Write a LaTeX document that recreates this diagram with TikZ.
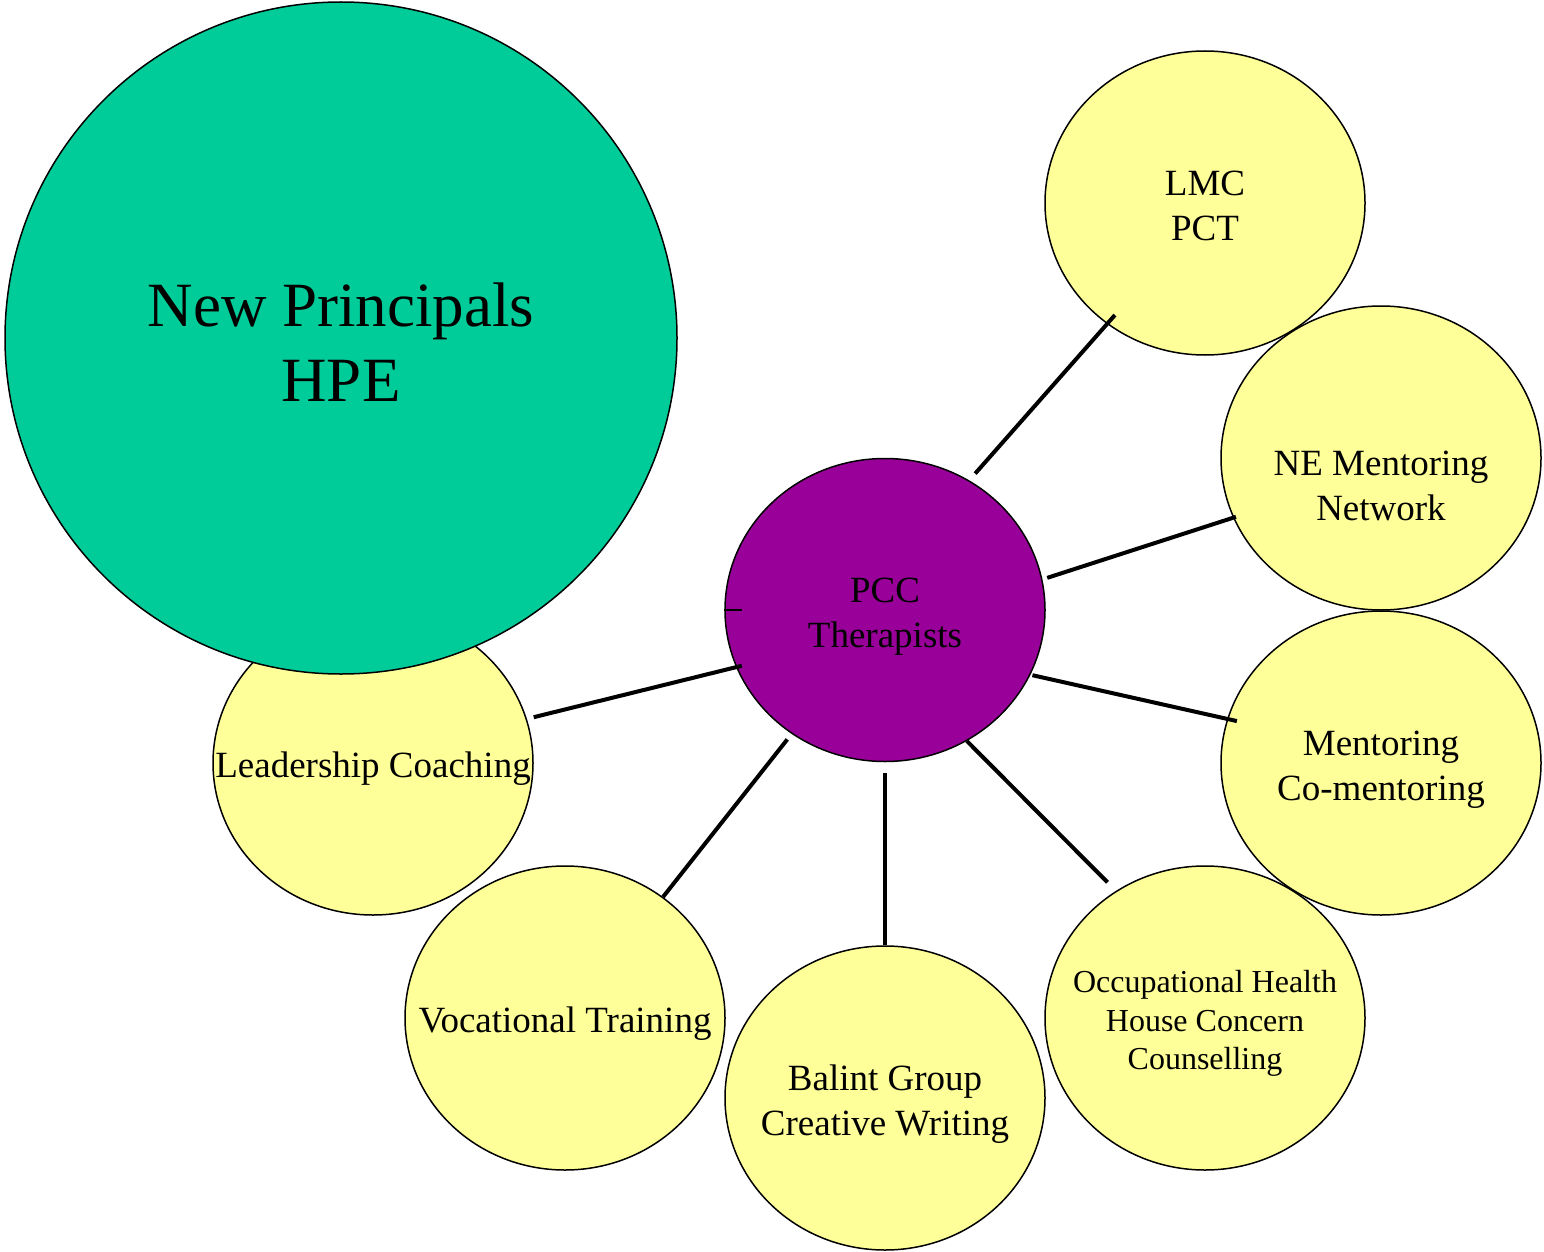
\documentclass[tikz,border=0pt]{standalone}
\usepackage{fontspec}
\setmainfont{Liberation Serif}
\usetikzlibrary{shapes.geometric}
\definecolor{mygreen}{RGB}{0, 204, 153}
\definecolor{mypurple}{RGB}{153, 0, 153}
\definecolor{myyellow}{RGB}{255, 255, 153}
\newcommand{\lnstrut}{\rule[-0.216em]{0pt}{1.107em}}

\tikzset{
    bubble/.style={ellipse, draw=black, line width=1.5pt, fill=myyellow, minimum width=320pt, minimum height=304pt, inner sep=0pt},
    txt/.style={align=center, inner sep=0pt, yshift=-2.5pt, font=\fontsize{37}{45}\selectfont},
    smalltxt/.style={txt, font=\fontsize{32}{38.5}\selectfont},
    link/.style={line width=4pt}
}

\begin{document}
\begin{tikzpicture}[x=1pt, y=-1pt]
        \useasboundingbox (0,0) rectangle (1544,1252);

        % Leadership Coaching (under the green circle)
        \node[bubble, label={[txt]center:\lnstrut Leadership Coaching}] (lead) at (373,763) {};

        % New Principals / HPE
        \node[circle, draw=black, line width=1.5pt, fill=mygreen, minimum size=672pt, inner sep=0pt,
              label={[txt, yshift=-2.5pt, font=\fontsize{63}{75}\selectfont]center:{\lnstrut New Principals\\\lnstrut HPE}}] (hpe) at (341,338) {};

        % Ring of yellow bubbles
        \node[bubble, label={[txt]center:{\lnstrut LMC\\\lnstrut PCT}}] (lmc) at (1205,203) {};
        \node[bubble, label={[txt, yshift=-25pt]center:{\lnstrut NE Mentoring\\\lnstrut Network}}] (nemen) at (1381,458) {};
        \node[bubble, label={[txt]center:{\lnstrut Mentoring\\\lnstrut Co-mentoring}}] (comen) at (1381,763) {};
        \node[bubble, label={[smalltxt]center:{\lnstrut Occupational Health\\\lnstrut House Concern\\\lnstrut Counselling}}] (occ) at (1205,1018) {};
        \node[bubble, label={[txt]center:{\lnstrut Balint Group\\\lnstrut Creative Writing}}] (balint) at (885,1098) {};
        \node[bubble, label={[txt]center:\lnstrut Vocational Training}] (voc) at (565,1018) {};

        % PCC Therapists (hub)
        \node[bubble, fill=mypurple, minimum height=303pt, label={[txt]center:{\lnstrut PCC\\\lnstrut Therapists}}] (pcc) at (885,610) {};

        % Spokes
        \draw[link, shorten <=9pt, shorten >=-12pt] (pcc.57) -- (lmc.231);
        \draw[link, shorten <=5pt, shorten >=-3pt] (pcc.11) -- (nemen.202);
        \draw[link, shorten <=2pt, shorten >=-10pt] (pcc.-24) -- (comen.164);
        \draw[link, shorten >=12pt] (pcc.-58) -- (occ.125);
        \draw[link, shorten <=11pt] (pcc.south) -- (balint.north);
        \draw[link, shorten <=7pt] (pcc.233) -- (voc.51);
        \draw[link, shorten <=-6pt, shorten >=7pt] (pcc.201) -- (lead.16);

        % Small tick on the left edge
        \coordinate (tick) at (742,610);
        \draw[line width=1.5pt] (pcc.west) -- (tick);
\end{tikzpicture}
\end{document}
